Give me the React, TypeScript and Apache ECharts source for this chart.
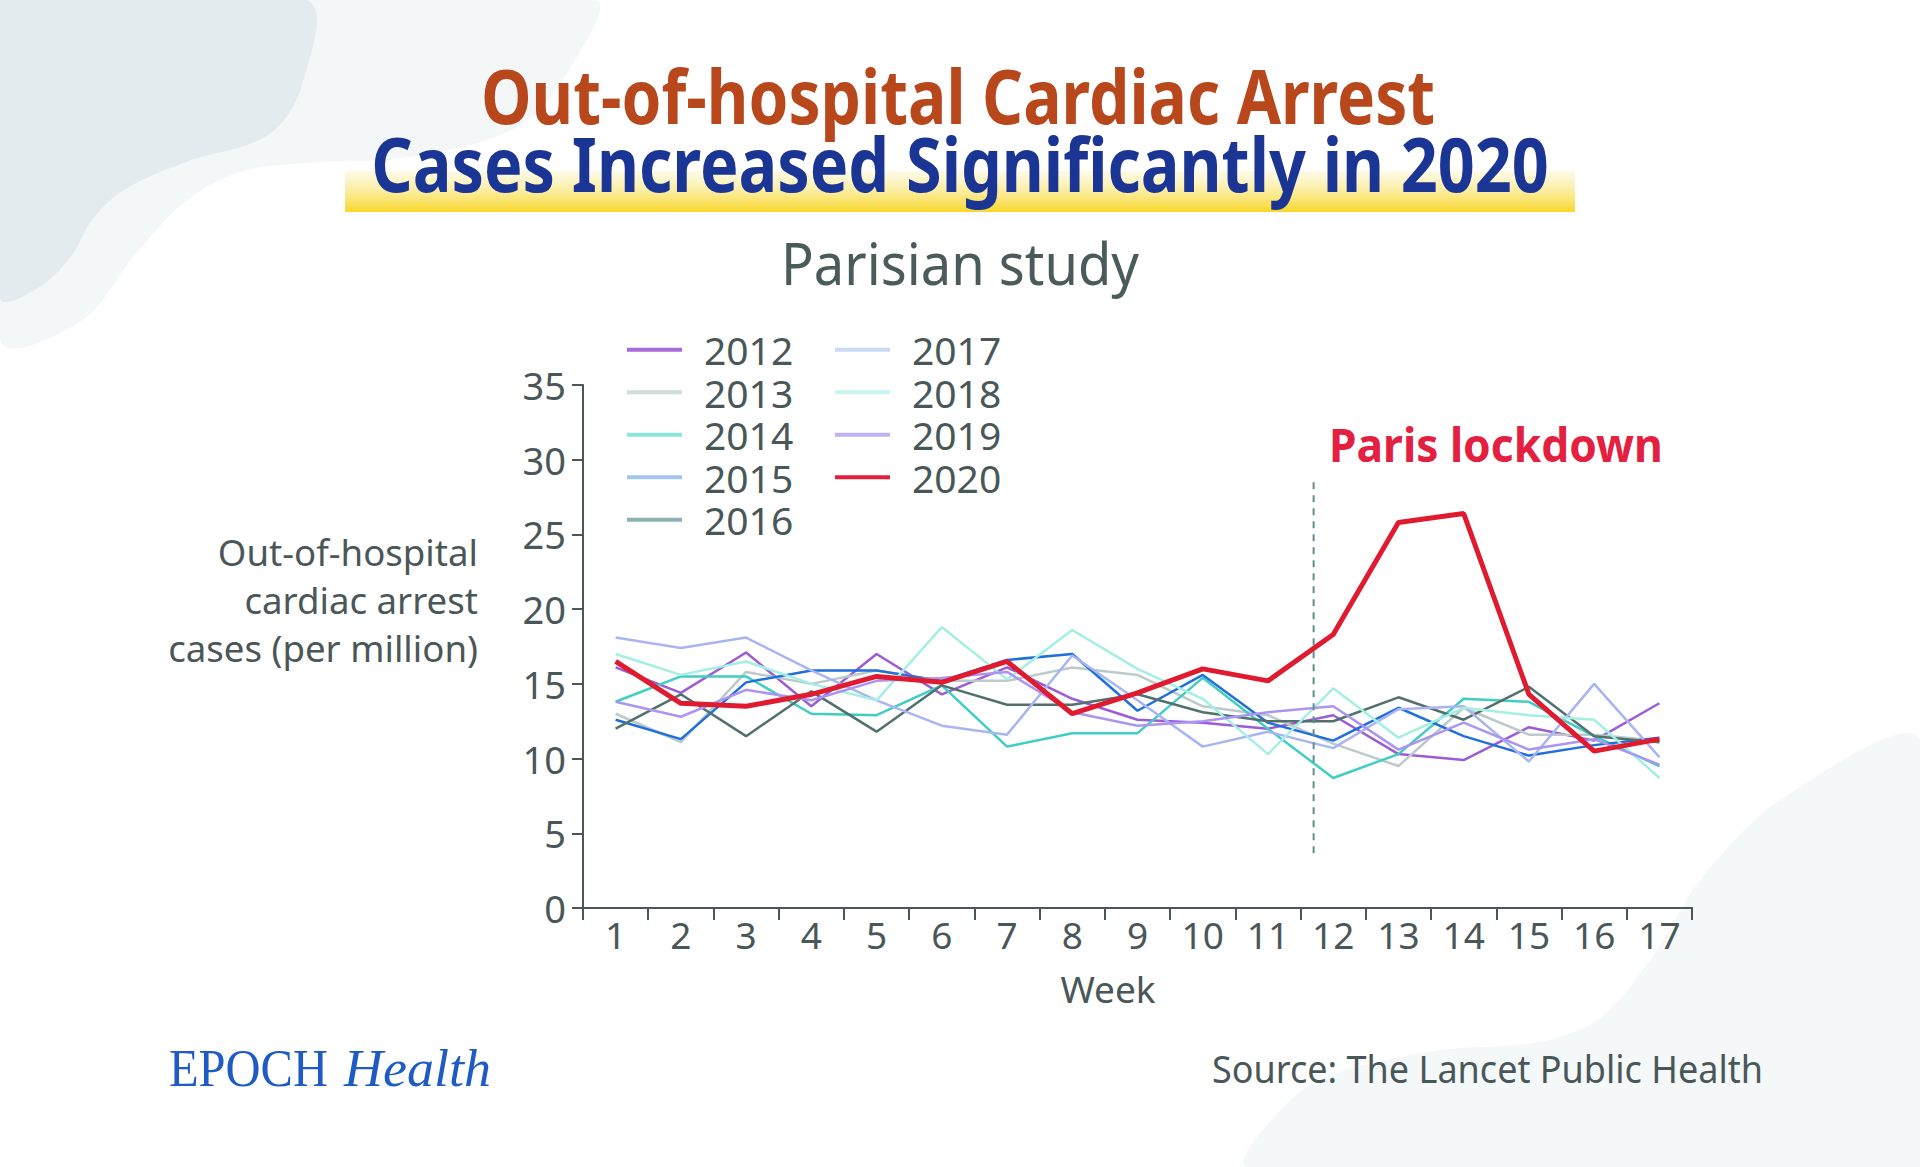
import React, { useEffect, useRef } from 'react';
import * as echarts from 'echarts';

const weeks = ['1', '2', '3', '4', '5', '6', '7', '8', '9', '10', '11', '12', '13', '14', '15', '16', '17'];
const years = ['2012', '2013', '2014', '2015', '2016', '2017', '2018', '2019', '2020'];
const yTicks = [0, 5, 10, 15, 20, 25, 30, 35];

const v2012 = [16.1, 14.4, 17.1, 13.5, 17.0, 14.3, 16.1, 14.0, 12.6, 12.4, 12.0, 12.9, 10.3, 9.9, 12.1, 11.2, 13.7];
const v2013 = [13.0, 11.1, 15.8, 15.0, 15.9, 15.2, 15.2, 16.1, 15.6, 13.5, 12.9, 11.0, 9.5, 13.4, 11.6, 11.6, 11.2];
const v2014 = [13.8, 15.5, 15.5, 13.0, 12.9, 14.9, 10.8, 11.7, 11.7, 15.4, 12.0, 8.7, 10.3, 14.0, 13.8, 11.5, 9.5];
const v2015 = [12.6, 11.3, 15.1, 15.9, 15.9, 15.2, 16.6, 17.0, 13.2, 15.6, 12.4, 11.2, 13.4, 11.5, 10.2, 10.9, 11.4];
const v2016 = [12.0, 14.3, 11.5, 14.5, 11.8, 14.9, 13.6, 13.6, 14.3, 13.1, 12.5, 12.5, 14.1, 12.6, 14.8, 11.5, 11.1];
const v2017 = [18.1, 17.4, 18.1, 15.9, 13.9, 12.2, 11.6, 16.9, 13.9, 10.8, 11.8, 10.7, 13.3, 13.5, 9.8, 15.0, 10.1];
const v2018 = [17.0, 15.6, 16.5, 15.0, 13.9, 18.8, 15.3, 18.6, 16.0, 14.0, 10.3, 14.7, 11.4, 13.4, 12.9, 12.6, 8.7];
const v2019 = [13.8, 12.8, 14.6, 13.9, 15.2, 15.4, 15.8, 13.1, 12.2, 12.5, 13.1, 13.5, 10.6, 12.4, 10.6, 11.3, 9.6];
const v2020 = [16.5, 13.7, 13.5, 14.3, 15.5, 15.1, 16.5, 13.0, 14.4, 16.0, 15.2, 18.3, 25.8, 26.4, 14.3, 10.5, 11.3];

const seriesValues = [v2012, v2013, v2014, v2015, v2016, v2017, v2018, v2019, v2020];

const lineColors = ['#9b5cd6', '#bccbca', '#3fcdc4', '#1f6fdc', '#52716e', '#a9b5f0', '#a5eee4', '#ab95f0', '#e01b30'];
const legendColors = ['#a86bd9', '#cfdcda', '#8ae6dd', '#a2c6ef', '#8fb1b1', '#cad9f6', '#c8f5ef', '#c3b1f5', '#e3203a'];

const lockdownWeekPos = 11.7; // position of lockdown marker, in weeks
const lockdownRange = [3.5, 28.5];

const AXIS = '#4a5759';
const SANS = '"Noto Sans", sans-serif';

const ctx = typeof document !== 'undefined' ? document.createElement('canvas').getContext('2d') : null;
function fit(text: string, font: string, target: number) {
  if (!ctx) return 1;
  ctx.font = font;
  const w = ctx.measureText(text).width;
  return w > 0 ? target / w : 1;
}

export default function App() {
  const ref = useRef<HTMLDivElement>(null);
  useEffect(() => {
    if (!ref.current) return;
    const chart = echarts.init(ref.current, undefined, { renderer: 'svg' });
    const legendBase = {
      orient: 'vertical',
      top: 330,
      itemWidth: 55,
      itemHeight: 4,
      itemGap: 3,
      icon: 'rect',
      padding: 0,
      selectedMode: false,
      textStyle: { fontSize: 39, color: AXIS, fontFamily: SANS, lineHeight: 39.5, padding: [0, 0, 0, 17] },
    };
    chart.setOption({
      animation: false,
      backgroundColor: '#ffffff',
      grid: { left: 583, right: 228, top: 385, bottom: 259, containLabel: false },
      legend: [
        { ...legendBase, left: 627, data: years.slice(0, 5).map((y, i) => ({ name: y, itemStyle: { color: legendColors[i] } })) },
        { ...legendBase, left: 835, data: years.slice(5).map((y, i) => ({ name: y, itemStyle: { color: legendColors[i + 5] } })) },
      ],
      xAxis: {
        type: 'category',
        data: weeks,
        boundaryGap: true,
        axisLine: { lineStyle: { color: AXIS, width: 2 } },
        axisTick: { show: true, length: 12, lineStyle: { color: AXIS, width: 2 } },
        axisLabel: { fontSize: 37, color: AXIS, fontFamily: SANS, margin: 8 },
      },
      yAxis: {
        type: 'value',
        min: yTicks[0],
        max: yTicks[yTicks.length - 1],
        interval: 5,
        splitLine: { show: false },
        axisLine: { show: true, lineStyle: { color: AXIS, width: 2 } },
        axisTick: { show: true, length: 11, lineStyle: { color: AXIS, width: 2 } },
        axisLabel: { fontSize: 38, color: AXIS, fontFamily: SANS, margin: 17 },
      },
      series: years.map((y, i) => ({
        name: y,
        type: 'line',
        data: seriesValues[i],
        symbol: 'none',
        smooth: false,
        z: y === '2020' ? 10 : 3,
        lineStyle: { color: lineColors[i], width: y === '2020' ? 5 : 2.5 },
        itemStyle: { color: lineColors[i] },
      })),
    });

    const x10 = chart.convertToPixel({ xAxisIndex: 0 }, 10) as number;
    const x11 = chart.convertToPixel({ xAxisIndex: 0 }, 11) as number;
    const dashX = x10 + (lockdownWeekPos - 11) * (x11 - x10);
    const dashY1 = chart.convertToPixel({ yAxisIndex: 0 }, lockdownRange[1]) as number;
    const dashY2 = chart.convertToPixel({ yAxisIndex: 0 }, lockdownRange[0]) as number;

    const t1 = 'Out-of-hospital Cardiac Arrest';
    const t2 = 'Cases Increased Significantly in 2020';
    const s1 = fit(t1, `bold 76px ${SANS}`, 955);
    const s2 = fit(t2, `bold 76px ${SANS}`, 1178);
    const sSub = fit('Parisian study', `58px ${SANS}`, 358);
    const sY = fit('cases (per million)', `36px ${SANS}`, 310);
    const sLock = fit('Paris lockdown', `bold 46px ${SANS}`, 334);
    const sSrc = fit('Source: The Lancet Public Health', `38px ${SANS}`, 551);
    const sEpoch = fit('EPOCH', `52px "Liberation Serif"`, 159);
    const sHealth = fit('Health', `italic 52px "Liberation Serif"`, 147);

    chart.setOption({
      graphic: [
        {
          type: 'polygon', z: -20, silent: true,
          shape: { points: [[0, 0], [594, 0], [578, 55], [520, 125], [410, 157], [306, 163], [240, 172], [185, 202], [135, 255], [80, 322], [0, 340]], smooth: 0.35 },
          style: { fill: '#f4f7f8' },
        },
        {
          type: 'polygon', z: -19, silent: true,
          shape: { points: [[0, 0], [306, 0], [302, 85], [268, 135], [186, 162], [124, 190], [92, 220], [72, 255], [38, 288], [0, 298]], smooth: 0.35 },
          style: { fill: '#e3ebee' },
        },
        {
          type: 'polygon', z: -20, silent: true,
          shape: { points: [[1248, 1167], [1290, 1100], [1340, 1072], [1440, 1050], [1540, 1042], [1600, 1018], [1650, 960], [1700, 880], [1780, 800], [1920, 740], [1920, 1167]], smooth: 0.3 },
          style: { fill: '#f5f8f9' },
        },
        {
          type: 'rect', z: 1, silent: true,
          shape: { x: 345, y: 171, width: 1230, height: 41 },
          style: {
            fill: new echarts.graphic.LinearGradient(0, 0, 0, 1, [
              { offset: 0, color: 'rgba(252,246,205,0.5)' },
              { offset: 1, color: '#f8d728' },
            ]),
          },
        },
        {
          type: 'text', z: 5, x: 958, y: 95, scaleX: s1,
          style: { text: t1, fontSize: 76, fontWeight: 'bold', fontFamily: SANS, fill: '#b8471c', align: 'center', verticalAlign: 'middle' },
        },
        {
          type: 'text', z: 5, x: 960, y: 163, scaleX: s2,
          style: { text: t2, fontSize: 76, fontWeight: 'bold', fontFamily: SANS, fill: '#1b3594', align: 'center', verticalAlign: 'middle' },
        },
        {
          type: 'text', z: 5, x: 960, y: 262, scaleX: sSub,
          style: { text: 'Parisian study', fontSize: 58, fontFamily: SANS, fill: '#4b5a5a', align: 'center', verticalAlign: 'middle' },
        },
        ...['Out-of-hospital', 'cardiac arrest', 'cases (per million)'].map((t, i) => ({
          type: 'text', z: 5, x: 478, y: 552 + i * 48, scaleX: sY,
          style: { text: t, fontSize: 36, fontFamily: SANS, fill: AXIS, align: 'right', verticalAlign: 'middle' },
        })),
        {
          type: 'text', z: 5, x: 1108, y: 988,
          style: { text: 'Week', fontSize: 37, fontFamily: SANS, fill: AXIS, align: 'center', verticalAlign: 'middle' },
        },
        {
          type: 'text', z: 5, x: 1329, y: 444, scaleX: sLock,
          style: { text: 'Paris lockdown', fontSize: 46, fontWeight: 'bold', fontFamily: SANS, fill: '#e3203f', align: 'left', verticalAlign: 'middle' },
        },
        {
          type: 'line', z: 4, silent: true,
          shape: { x1: dashX, y1: dashY1, x2: dashX, y2: dashY2 },
          style: { stroke: '#5f8f8c', lineWidth: 2, lineDash: [7, 6] },
        },
        {
          type: 'text', z: 5, x: 1763, y: 1068, scaleX: sSrc,
          style: { text: 'Source: The Lancet Public Health', fontSize: 38, fontFamily: SANS, fill: AXIS, align: 'right', verticalAlign: 'middle' },
        },
        {
          type: 'text', z: 5, x: 169, y: 1068, scaleX: sEpoch,
          style: { text: 'EPOCH', fontSize: 52, fontFamily: '"Liberation Serif", serif', fill: '#1f5bc5', align: 'left', verticalAlign: 'middle' },
        },
        {
          type: 'text', z: 5, x: 344, y: 1068, scaleX: sHealth,
          style: { text: 'Health', fontSize: 52, fontStyle: 'italic', fontFamily: '"Liberation Serif", serif', fill: '#1f5bc5', align: 'left', verticalAlign: 'middle' },
        },
      ],
    });
    return () => chart.dispose();
  }, []);
  return <div ref={ref} style={{ position: 'fixed', left: 0, top: 0, width: 1920, height: 1167 }} />;
}
